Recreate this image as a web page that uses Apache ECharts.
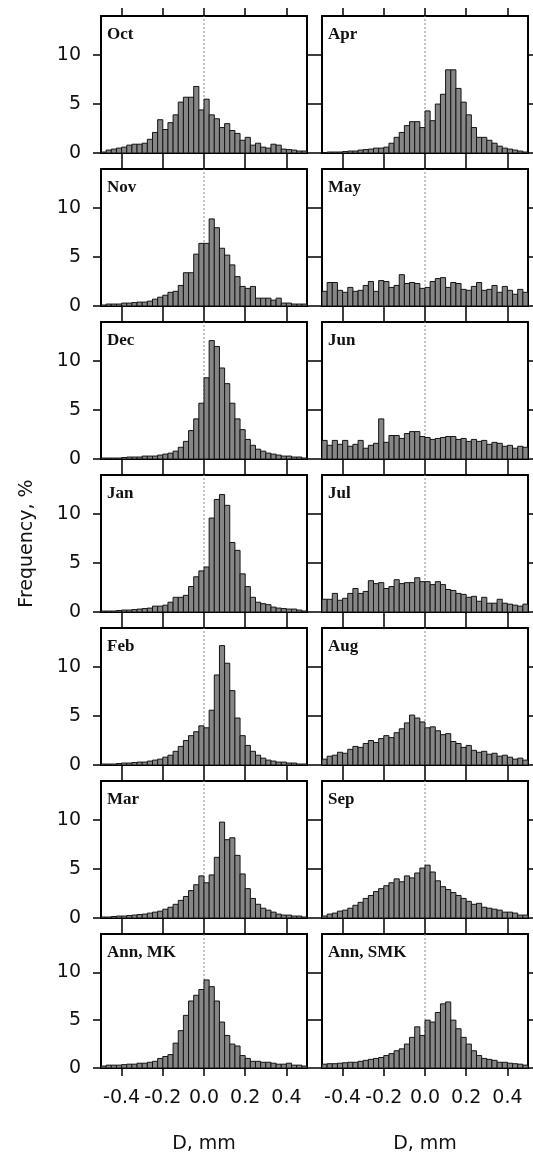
<!DOCTYPE html>
<html>
<head>
<meta charset="utf-8">
<script src="https://cdn.jsdelivr.net/npm/echarts@6/dist/echarts.min.js"></script>
<style>
  html, body { margin: 0; padding: 0; background: #fff; }
  #chart { width: 533px; height: 1155px; }
</style>
</head>
<body>
<div id="chart"></div>
<script>
// Histogram bins of D (mm): 40 bins of 0.025 from -0.5 to 0.5
const BIN_START = -0.5;
const BIN_WIDTH = 0.025;
const X_MIN = -0.5;
const X_MAX = 0.5;
const xTicks = [-0.4, -0.2, 0.0, 0.2, 0.4];
const yTicks = [0, 5, 10];
const Y_MAX = 14;

// Frequency, % per bin
const oct = [0.1, 0.3, 0.4, 0.5, 0.6, 0.8, 0.9, 0.9, 1.0, 1.4,
             2.1, 3.4, 2.4, 3.1, 3.9, 5.2, 5.7, 5.7, 6.8, 4.4,
             5.5, 3.9, 3.5, 2.6, 3.0, 2.3, 2.0, 1.3, 1.6, 0.8,
             1.0, 0.6, 0.5, 0.9, 0.8, 0.4, 0.35, 0.3, 0.2, 0.2];
const nov = [0.1, 0.2, 0.2, 0.2, 0.3, 0.3, 0.35, 0.4, 0.4, 0.5,
             0.7, 0.9, 1.1, 1.4, 1.5, 2.1, 3.4, 3.4, 5.3, 6.4,
             6.4, 8.9, 8.0, 5.9, 5.2, 4.2, 3.0, 2.0, 1.8, 2.0,
             0.8, 0.8, 0.8, 0.6, 0.8, 0.3, 0.3, 0.2, 0.2, 0.2];
const dec = [0.1, 0.1, 0.1, 0.1, 0.15, 0.2, 0.2, 0.2, 0.3, 0.3,
             0.3, 0.4, 0.5, 0.6, 0.8, 1.2, 1.8, 2.9, 4.1, 5.7,
             8.3, 12.1, 11.5, 9.3, 7.7, 5.7, 4.1, 3.0, 2.0, 1.4,
             1.0, 0.8, 0.6, 0.5, 0.4, 0.3, 0.3, 0.2, 0.2, 0.1];
const jan = [0.1, 0.1, 0.1, 0.15, 0.2, 0.2, 0.25, 0.3, 0.35, 0.4,
             0.6, 0.6, 0.7, 1.0, 1.5, 1.5, 1.7, 2.6, 3.6, 4.2,
             4.6, 9.6, 11.5, 12.0, 10.9, 7.1, 6.3, 3.9, 2.6, 1.5,
             1.0, 0.85, 0.75, 0.5, 0.4, 0.35, 0.3, 0.3, 0.2, 0.1];
const feb = [0.1, 0.1, 0.1, 0.15, 0.2, 0.2, 0.25, 0.3, 0.3, 0.4,
             0.5, 0.6, 0.8, 1.0, 1.4, 1.9, 2.5, 3.0, 3.4, 4.0,
             3.8, 5.6, 9.2, 12.2, 10.4, 7.6, 4.8, 3.0, 2.0, 1.4,
             1.0, 0.7, 0.5, 0.4, 0.3, 0.3, 0.2, 0.2, 0.1, 0.1];
const mar = [0.1, 0.1, 0.15, 0.2, 0.2, 0.25, 0.3, 0.35, 0.4, 0.5,
             0.6, 0.7, 0.9, 1.1, 1.4, 1.8, 2.2, 2.8, 3.4, 4.3,
             3.6, 4.4, 6.2, 9.8, 8.0, 8.2, 6.4, 4.5, 3.0, 2.0,
             1.4, 1.0, 0.8, 0.6, 0.4, 0.3, 0.3, 0.2, 0.2, 0.1];
const annMK = [0.2, 0.3, 0.3, 0.3, 0.35, 0.4, 0.4, 0.5, 0.5, 0.6,
               0.7, 1.0, 1.2, 1.4, 2.6, 3.9, 5.5, 7.0, 7.6, 8.2,
               9.2, 8.5, 7.0, 4.8, 3.4, 2.5, 2.3, 1.3, 1.0, 0.7,
               0.7, 0.6, 0.6, 0.5, 0.4, 0.4, 0.5, 0.3, 0.3, 0.2];
const apr = [0.05, 0.1, 0.1, 0.1, 0.15, 0.2, 0.2, 0.3, 0.35, 0.4,
             0.5, 0.5, 0.6, 1.0, 1.6, 2.1, 2.8, 3.2, 3.2, 2.6,
             4.3, 3.3, 5.0, 6.0, 8.5, 8.5, 6.6, 5.2, 3.9, 2.6,
             1.6, 1.6, 1.3, 1.0, 0.7, 0.5, 0.4, 0.3, 0.2, 0.1];
const may = [1.5, 2.4, 2.4, 1.6, 1.4, 1.9, 1.5, 1.6, 2.1, 2.5,
             1.5, 2.6, 2.5, 1.9, 2.1, 3.2, 2.3, 2.4, 2.3, 1.8,
             1.9, 2.5, 2.8, 2.9, 1.9, 2.4, 2.3, 1.7, 1.6, 2.0,
             2.4, 1.6, 1.7, 2.1, 1.4, 2.0, 1.6, 1.2, 1.7, 1.4];
const jun = [1.9, 1.4, 1.9, 1.5, 1.9, 1.3, 1.5, 1.9, 1.1, 1.4,
             1.6, 4.1, 1.7, 2.4, 2.4, 2.1, 2.6, 2.8, 2.8, 2.3,
             2.2, 2.0, 2.1, 2.2, 2.3, 2.3, 2.0, 2.1, 1.8, 2.0,
             1.8, 1.9, 1.5, 1.7, 1.6, 1.3, 1.4, 1.1, 1.3, 1.2];
const jul = [1.3, 1.3, 1.9, 1.2, 1.4, 1.9, 2.4, 1.9, 2.1, 3.2,
             2.9, 3.0, 2.4, 2.6, 3.3, 2.9, 3.0, 3.0, 3.5, 3.1,
             3.1, 2.8, 3.1, 2.8, 2.3, 2.2, 1.9, 1.8, 1.5, 1.6,
             1.1, 1.5, 0.9, 0.9, 1.3, 0.9, 0.8, 0.7, 0.6, 0.8];
const aug = [0.6, 0.9, 1.0, 1.3, 1.2, 1.6, 1.9, 1.8, 2.2, 2.5,
             2.3, 2.7, 3.0, 2.8, 3.3, 3.7, 4.3, 5.1, 4.8, 4.4,
             3.8, 3.9, 3.5, 3.1, 3.2, 2.4, 2.2, 1.8, 2.0, 1.5,
             1.3, 1.4, 1.1, 1.2, 0.9, 1.0, 0.8, 0.6, 0.7, 0.5];
const sep = [0.2, 0.4, 0.5, 0.7, 0.8, 1.0, 1.3, 1.6, 2.0, 2.3,
             2.7, 3.0, 3.3, 3.6, 4.0, 3.7, 4.3, 4.1, 4.6, 5.1,
             5.4, 4.7, 3.8, 3.2, 2.9, 2.6, 2.3, 2.0, 1.7, 1.4,
             1.5, 1.1, 1.0, 0.9, 0.8, 0.6, 0.6, 0.5, 0.3, 0.3];
const annSMK = [0.4, 0.45, 0.45, 0.5, 0.55, 0.6, 0.6, 0.7, 0.8, 0.9,
                1.0, 1.1, 1.3, 1.5, 1.8, 2.0, 2.5, 3.2, 4.3, 3.4,
                5.0, 4.8, 5.8, 6.7, 6.9, 5.0, 4.1, 3.2, 2.5, 1.8,
                1.3, 1.0, 0.9, 0.8, 0.6, 0.6, 0.5, 0.45, 0.4, 0.3];

// Panels, column by column
const leftNames = ['Oct', 'Nov', 'Dec', 'Jan', 'Feb', 'Mar', 'Ann, MK'];
const leftSeries = [oct, nov, dec, jan, feb, mar, annMK];
const rightNames = ['Apr', 'May', 'Jun', 'Jul', 'Aug', 'Sep', 'Ann, SMK'];
const rightSeries = [apr, may, jun, jul, aug, sep, annSMK];

const xAxisTitle = 'D, mm';
const yAxisTitle = 'Frequency, %';

// ---- layout ----
const ROWS = 7;
const COL_LEFT = [101, 322];
const PANEL_W = 206;
const PANEL_TOP = 16;
const PANEL_H = 137;
const ROW_PITCH = 153;

const SANS = 'DejaVu Sans';
const SERIF = 'Liberation Serif';
const INK = '#111';

const grids = [], xAxes = [], yAxes = [], series = [], titles = [];

function binData(values) {
  return values.map((v, i) => [BIN_START + i * BIN_WIDTH, BIN_START + (i + 1) * BIN_WIDTH, v]);
}

function renderBin(params, api) {
  const topLeft = api.coord([api.value(0), api.value(2)]);
  const bottomRight = api.coord([api.value(1), 0]);
  return {
    type: 'rect',
    shape: {
      x: topLeft[0],
      y: topLeft[1],
      width: bottomRight[0] - topLeft[0],
      height: bottomRight[1] - topLeft[1]
    },
    style: { fill: '#868686', stroke: '#141414', lineWidth: 1 }
  };
}

function frameLine() {
  return { show: true, onZero: false, lineStyle: { color: '#000', width: 2 } };
}
function outerTicks(values) {
  return { show: true, inside: false, length: 8, customValues: values.slice(),
           lineStyle: { color: '#000', width: 1.5 } };
}

function addPanel(col, row, name, values) {
  const g = grids.length;
  const isLeft = col === 0;
  const isBottom = row === ROWS - 1;
  const top = PANEL_TOP + row * ROW_PITCH;
  grids.push({ left: COL_LEFT[col], top: top, width: PANEL_W, height: PANEL_H, containLabel: false });

  // bottom x axis (labels on the last row only)
  xAxes.push({
    gridIndex: g, type: 'value', position: 'bottom', min: X_MIN, max: X_MAX,
    axisLine: frameLine(), splitLine: { show: false },
    axisTick: outerTicks(xTicks),
    axisLabel: {
      show: isBottom, customValues: xTicks.slice(), margin: 21,
      formatter: v => v.toFixed(1),
      fontFamily: SANS, fontSize: 19, color: INK
    },
    name: isBottom ? xAxisTitle : '', nameLocation: 'middle', nameGap: 67,
    nameTextStyle: { fontFamily: SANS, fontSize: 19, color: INK }
  });
  // top x axis: frame edge and ticks
  xAxes.push({
    gridIndex: g, type: 'value', position: 'top', min: X_MIN, max: X_MAX,
    axisLine: frameLine(), splitLine: { show: false },
    axisTick: outerTicks(xTicks),
    axisLabel: { show: false }
  });
  // left y axis (labels on the left column only)
  yAxes.push({
    gridIndex: g, type: 'value', position: 'left', min: 0, max: Y_MAX,
    axisLine: frameLine(), splitLine: { show: false },
    axisTick: outerTicks(yTicks),
    axisLabel: { show: isLeft, customValues: yTicks.slice(), margin: 20,
                 fontFamily: SANS, fontSize: 19, color: INK }
  });
  // right y axis: frame edge and ticks
  yAxes.push({
    gridIndex: g, type: 'value', position: 'right', min: 0, max: Y_MAX,
    axisLine: frameLine(), splitLine: { show: false },
    axisTick: outerTicks(yTicks),
    axisLabel: { show: false }
  });

  const xi = 2 * g, yi = 2 * g;
  // dotted reference line at D = 0
  series.push({
    type: 'line', xAxisIndex: xi, yAxisIndex: yi, data: [[0, 0], [0, Y_MAX]],
    symbol: 'none', silent: true, z: 1,
    lineStyle: { color: '#8a8a8a', width: 1, type: [2, 2] }
  });
  series.push({
    type: 'custom', xAxisIndex: xi, yAxisIndex: yi, z: 2,
    data: binData(values), encode: { x: [0, 1], y: 2 },
    renderItem: renderBin, clip: true
  });

  titles.push({
    text: name, left: COL_LEFT[col] + 6, top: top + 10, padding: 0,
    textStyle: { fontFamily: SERIF, fontWeight: 'bold', fontSize: 17, color: INK }
  });
}

for (let r = 0; r < ROWS; r++) addPanel(0, r, leftNames[r], leftSeries[r]);
for (let r = 0; r < ROWS; r++) addPanel(1, r, rightNames[r], rightSeries[r]);

const chart = echarts.init(document.getElementById('chart'), null, { renderer: 'canvas' });
chart.setOption({
  animation: false,
  backgroundColor: '#fff',
  title: titles,
  grid: grids,
  xAxis: xAxes,
  yAxis: yAxes,
  series: series,
  graphic: [{
    type: 'text', x: 27, y: PANEL_TOP + (ROWS - 1) * ROW_PITCH / 2 + PANEL_H / 2,
    rotation: Math.PI / 2,
    style: {
      text: yAxisTitle, fontFamily: SANS, fontSize: 19, fill: INK,
      align: 'center', verticalAlign: 'middle'
    }
  }]
});
</script>
</body>
</html>
